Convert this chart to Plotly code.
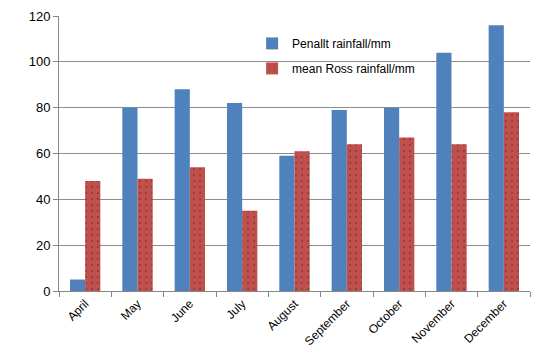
import plotly.graph_objects as go

months = ["April", "May", "June", "July", "August", "September", "October", "November", "December"]
penallt = [5, 80, 88, 82, 59, 79, 80, 104, 116]
ross = [48, 49, 54, 35, 61, 64, 67, 64, 78]
y_ticks = [0, 20, 40, 60, 80, 100, 120]

fig = go.Figure()
fig.add_trace(go.Bar(x=months, y=penallt, name="Penallt rainfall/mm", legendgroup="a",
                     marker=dict(color="#4F81BD", line=dict(width=0))))
fig.add_trace(go.Bar(x=months, y=ross, name="mean Ross rainfall/mm", legendgroup="b",
                     marker=dict(color="#C0504D", line=dict(width=0),
                                 pattern=dict(shape=".", fgcolor="#7a2a28", bgcolor="#C0504D",
                                              size=6, solidity=0.12))))

fig.update_layout(
    width=533, height=355,
    margin=dict(l=51, r=11, t=8, b=72, autoexpand=False),
    paper_bgcolor="white", plot_bgcolor="white",
    barmode="group", bargap=0.42, bargroupgap=0,
    font=dict(family="Liberation Sans, Arial, sans-serif", size=12, color="black"),
    showlegend=True,
    legend=dict(x=0.41, y=0.953, xanchor="left", yanchor="top", bgcolor="rgba(0,0,0,0)",
                font=dict(size=12), itemwidth=30, traceorder="grouped", tracegroupgap=6),
    xaxis=dict(showline=True, linecolor="#868686", linewidth=1, automargin=False,
               ticks="outside", tickson="boundaries", ticklen=5, tickcolor="#868686",
               tickangle=-45, showgrid=False, tickfont=dict(size=12)),
    yaxis=dict(range=[0, 120], tickvals=y_ticks, showline=True, linecolor="#868686", linewidth=1,
               automargin=False,
               ticks="outside", ticklen=5, tickcolor="#868686",
               showgrid=True, gridcolor="#8c8c8c", gridwidth=1, zeroline=False,
               tickfont=dict(size=13)),
)

fig.write_html("out.html")
